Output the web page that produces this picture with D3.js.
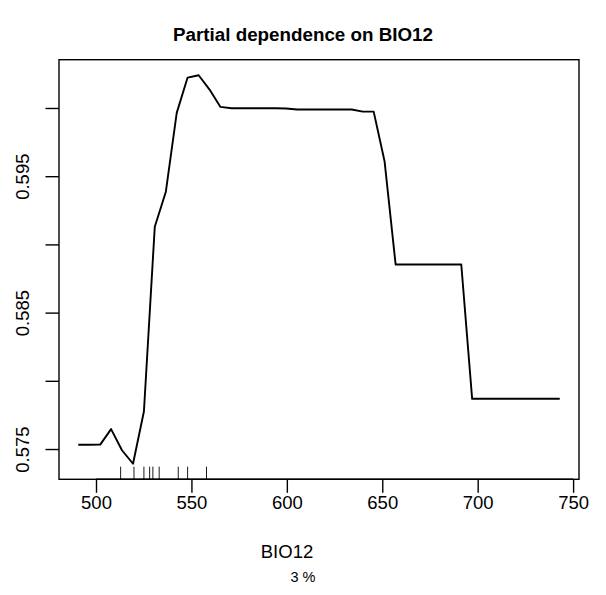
<!DOCTYPE html>
<html><head><meta charset="utf-8">
<script src="https://cdn.jsdelivr.net/npm/d3@7"></script>
<style>body{margin:0;background:#fff}svg{display:block}text{font-family:"Liberation Sans",Arial,Helvetica,sans-serif;fill:#000}</style>
</head><body>
<script>
const bio12 = [490.7,496.4,502.2,507.9,513.6,519.4,525.1,530.8,536.6,542.3,548.0,553.8,559.5,565.2,571.0,576.7,582.4,588.2,593.9,599.6,605.4,611.1,616.8,622.6,628.3,634.0,639.8,645.5,651.2,657.0,662.7,668.4,674.2,679.9,685.6,691.4,697.1,702.8,708.6,714.3,720.0,725.8,731.5,737.2,743.0];
const fitted = [0.57531,0.57531,0.57532,0.57646,0.57491,0.57392,0.57775,0.59130,0.59386,0.59964,0.60223,0.60240,0.60135,0.60008,0.59998,0.59998,0.59998,0.59998,0.59998,0.59996,0.59989,0.59989,0.59989,0.59989,0.59989,0.59989,0.59973,0.59973,0.59610,0.58853,0.58853,0.58853,0.58853,0.58853,0.58853,0.58853,0.57868,0.57868,0.57868,0.57868,0.57868,0.57868,0.57868,0.57868,0.57868];
const rugValues = [512.9,519.9,525.1,528.1,529.8,533.1,543.1,548.0,557.9];
const xTicks = [500,550,600,650,700,750];
const yTicks = [0.575,0.580,0.585,0.590,0.595,0.600];
const yLabelled = [0.575,0.585,0.595];
const title = "Partial dependence on BIO12";
const xLabel = "BIO12";
const subLabel = "3 %";

const W=606,H=595;
const L=59,R=579,T=59.7,B=479.3;
const FS=18.5;
const svg=d3.select("body").append("svg").attr("width",W).attr("height",H);

function padded(ext){const d=(ext[1]-ext[0])*0.04;return [ext[0]-d,ext[1]+d];}
const x=d3.scaleLinear().domain(padded(d3.extent(bio12))).range([L,R]);
const y=d3.scaleLinear().domain(padded(d3.extent(fitted))).range([B,T]);

// box
svg.append("rect").attr("x",L).attr("y",T).attr("width",R-L).attr("height",B-T)
  .attr("fill","none").attr("stroke","#000").attr("stroke-width",1.4);

// x axis
const xa=svg.append("g").attr("transform",`translate(0,${B})`)
  .call(d3.axisBottom(x).tickValues(xTicks).tickSize(13.5).tickFormat(d3.format("d")));
xa.select(".domain").remove();
xa.selectAll(".tick line").attr("stroke","#000").attr("stroke-width",1.4);
xa.selectAll(".tick text").attr("font-size",FS).attr("y",29.5).attr("dy",0)
  .attr("dominant-baseline","auto").style("font-family",'"Liberation Sans",Arial,sans-serif');
xa.append("line").attr("x1",x(xTicks[0])).attr("x2",x(xTicks[xTicks.length-1]))
  .attr("stroke","#000").attr("stroke-width",1.4);

// y axis
const ya=svg.append("g").attr("transform",`translate(${L},0)`)
  .call(d3.axisLeft(y).tickValues(yTicks).tickSize(13.5).tickFormat(d=>yLabelled.some(v=>Math.abs(v-d)<1e-9)?d3.format(".3f")(d):""));
ya.select(".domain").remove();
ya.selectAll(".tick line").attr("stroke","#000").attr("stroke-width",1.4);
ya.selectAll(".tick text").attr("font-size",FS).attr("x",0).attr("dy",0)
  .attr("text-anchor","middle").attr("dominant-baseline","auto")
  .attr("transform","translate(-30.5,0) rotate(-90)")
  .style("font-family",'"Liberation Sans",Arial,sans-serif');

// rug
svg.append("g").selectAll("line").data(rugValues).join("line")
  .attr("x1",d=>x(d)).attr("x2",d=>x(d)).attr("y1",B).attr("y2",B-12.6)
  .attr("stroke","#000").attr("stroke-width",0.9);

// line
svg.append("path").datum(bio12.map((v,i)=>[v,fitted[i]]))
  .attr("d",d3.line().x(d=>x(d[0])).y(d=>y(d[1])))
  .attr("fill","none").attr("stroke","#000").attr("stroke-width",1.9).attr("stroke-linejoin","round");

// titles
svg.append("text").attr("x",303).attr("y",41).attr("text-anchor","middle")
  .attr("font-size",18.8).attr("font-weight","bold").text(title);
svg.append("text").attr("x",287).attr("y",558).attr("text-anchor","middle")
  .attr("font-size",FS).text(xLabel);
svg.append("text").attr("x",303).attr("y",582).attr("text-anchor","middle")
  .attr("font-size",14.5).text(subLabel);
</script>
</body></html>
